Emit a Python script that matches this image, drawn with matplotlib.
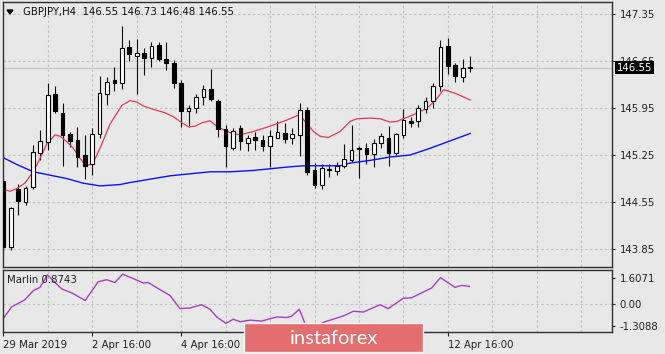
import matplotlib
matplotlib.use("Agg")
import matplotlib.pyplot as plt
from matplotlib.patches import Rectangle, Polygon

# GBPJPY H4 candles
opens = [144.86, 143.88, 144.75, 144.55, 144.78, 145.28, 145.45, 146.16, 145.88, 145.56,
         145.47, 145.25, 145.11, 145.57, 146.16, 146.36, 146.33, 146.86, 146.73, 146.77,
         146.70, 146.89, 146.68, 146.62, 146.32, 145.91, 145.95, 146.11, 146.24, 146.06,
         145.63, 145.36, 145.65, 145.43, 145.52, 145.47, 145.38, 145.51, 145.58, 145.50,
         145.55, 145.92, 145.02, 144.80, 145.03, 145.01, 145.08, 145.18, 145.35, 145.36,
         145.26, 145.43, 145.51, 145.28, 145.55, 145.76, 145.76, 145.93, 146.06, 146.28,
         146.87, 146.59, 146.41, 146.55]
highs = [144.90, 144.48, 144.82, 144.79, 145.40, 145.62, 146.33, 146.28, 146.02, 145.60,
         145.66, 145.55, 145.65, 146.43, 146.41, 146.56, 147.17, 146.97, 146.98, 146.84,
         146.94, 146.94, 146.94, 146.66, 146.37, 145.99, 146.16, 146.29, 146.53, 146.08,
         145.70, 145.65, 145.70, 145.55, 145.60, 145.55, 145.62, 145.75, 145.72, 145.65,
         146.03, 145.97, 145.13, 145.12, 145.12, 145.14, 145.41, 145.70, 145.38, 145.43,
         145.49, 145.58, 145.68, 145.58, 145.93, 145.82, 145.99, 146.11, 146.33, 146.96,
         146.99, 146.62, 146.68, 146.73]
lows = [143.79, 143.83, 144.36, 144.50, 144.75, 145.18, 145.32, 145.87, 145.09, 145.37,
        145.07, 144.90, 144.95, 145.50, 146.00, 146.21, 146.23, 146.65, 146.16, 146.44,
        146.56, 146.65, 146.52, 146.25, 145.66, 145.66, 145.88, 146.00, 146.06, 145.52,
        145.07, 145.32, 145.32, 145.31, 145.33, 145.31, 145.07, 145.50, 145.43, 145.42,
        145.23, 144.95, 144.76, 144.75, 144.92, 144.95, 145.06, 145.15, 144.91, 145.12,
        145.07, 145.35, 145.09, 145.25, 145.51, 145.67, 145.67, 145.88, 145.95, 146.21,
        146.46, 146.34, 146.34, 146.48]
closes = [143.88, 144.46, 144.57, 144.76, 145.29, 145.46, 146.14, 145.91, 145.55, 145.46,
          145.22, 145.09, 145.57, 146.18, 146.34, 146.33, 146.85, 146.75, 146.77, 146.70,
          146.88, 146.68, 146.62, 146.33, 145.90, 145.95, 146.11, 146.24, 146.08, 145.63,
          145.38, 145.61, 145.46, 145.51, 145.48, 145.39, 145.53, 145.60, 145.49, 145.57,
          145.92, 144.99, 144.80, 145.05, 145.04, 145.08, 145.19, 145.33, 145.34, 145.26,
          145.43, 145.53, 145.28, 145.56, 145.77, 145.73, 145.95, 146.06, 146.28, 146.86,
          146.58, 146.42, 146.54, 146.55]

# fast (red) and slow (blue) averages: bar position, price
fast_pos = [0, 0.9, 1.8, 2.9, 4.05, 4.95, 5.9, 7.0, 7.65, 8.55, 9.45, 10.35, 11.15, 12.05,
            13.05, 14.4, 16.0, 17.1, 18.0, 18.9, 20.25, 21.8, 22.95, 24.1, 25.0, 25.9,
            26.8, 27.9, 28.8, 30.15, 31.05, 31.95, 33.75, 36.0, 38.25, 39.95, 40.95, 41.85,
            42.75, 43.85, 45.45, 46.8, 47.7, 49.5, 50.85, 52.2, 53.1, 54.0, 55.35, 56.7,
            57.6, 58.5, 59.4, 59.85, 61.2, 63.0]
fast_val = [144.74, 144.71, 144.75, 144.83, 145.00, 145.20, 145.42, 145.55, 145.53, 145.45,
            145.35, 145.20, 145.09, 145.12, 145.35, 145.71, 145.99, 146.06, 146.04, 145.98,
            145.93, 145.88, 145.82, 145.73, 145.67, 145.68, 145.73, 145.76, 145.68, 145.60,
            145.57, 145.55, 145.60, 145.68, 145.77, 145.85, 145.72, 145.60, 145.53, 145.51,
            145.60, 145.75, 145.79, 145.80, 145.79, 145.74, 145.75, 145.79, 145.85, 145.92,
            145.99, 146.09, 146.22, 146.21, 146.16, 146.07]
slow_pos = [0, 1.8, 4.05, 6.3, 8.55, 10.8, 13.05, 14.4, 15.75, 17.1, 19.8, 22.5, 25.2, 27.9,
            30.6, 33.75, 38.25, 40.5, 42.75, 45.45, 46.8, 49.5, 52.2, 54.9, 57.6, 60.3, 63.0]
slow_val = [145.21, 145.11, 145.00, 144.95, 144.90, 144.83, 144.79, 144.80, 144.81, 144.84,
            144.89, 144.94, 144.97, 145.00, 145.00, 145.02, 145.07, 145.09, 145.09, 145.09,
            145.13, 145.17, 145.22, 145.25, 145.35, 145.46, 145.57]

# Marlin oscillator
marlin_pos = [0, 1.1, 2.9, 4.05, 4.95, 5.95, 6.75, 7.9, 9.25, 11.05, 12.8, 13.95, 15.05, 16.1,
              17.55, 18.9, 19.55, 21.15, 22.5, 23.85, 25.2, 26.75, 27.9, 28.8, 30.05, 31.05,
              31.95, 33.3, 34.85, 36.9, 38.25, 38.9, 39.95, 40.7, 41.8, 43.4, 44.1, 45.9,
              47.25, 48.6, 50.85, 51.95, 54.0, 55.1, 57.8, 59.0, 60.95, 61.85, 62.9]
marlin_val = [-0.87, -0.16, 0.28, 0.85, 1.05, 1.82, 1.45, 0.95, 0.71, 0.24, 1.39, 1.52, 1.35,
              1.86, 1.59, 1.32, 1.35, 0.91, 0.55, -0.26, -0.22, -0.02, -0.30, -0.77, -1.17,
              -0.91, -1.07, -0.97, -1.03, -0.77, -0.81, -0.73, -0.30, -1.17, -1.40, -1.07,
              -0.97, -0.71, -0.42, -0.47, -0.02, -0.26, 0.38, 0.41, 1.01, 1.65, 1.05, 1.17, 1.11]

price_ticks = [143.85, 144.55, 145.25, 145.95, 146.65, 147.35]
marlin_ticks = [-1.3088, 0.0, 1.6071]
marlin_labels = ["-1.3088", "0.00", "1.6071"]
date_pos = [0, 12, 24, 36, 48, 60]
date_labels = ["29 Mar 2019", "2 Apr 16:00", "4 Apr 16:00", "", "10 Apr 16:00", "12 Apr 16:00"]
last_price = 146.55

W, H = 665, 354
bg = "#e8e8e8"
gridc = "#c2c2c2"
fs = 7.3
plt.rcParams["font.family"] = "DejaVu Sans"

fig = plt.figure(figsize=(W / 100, H / 100), dpi=100, facecolor=bg)
ax = fig.add_axes([3 / W, 1 - 267 / H, 609 / W, 265 / H], facecolor=bg)
ax2 = fig.add_axes([3 / W, 1 - 332 / H, 609 / W, 62 / H], facecolor=bg, sharex=ax)

for a in (ax, ax2):
    for s in a.spines.values():
        s.set_color("#303030")
        s.set_linewidth(1)
    a.yaxis.tick_right()
    a.tick_params(axis="y", length=2.5, width=0.8, pad=3, labelsize=fs, colors="#202020")
    for g in range(6, 83, 6):
        a.axvline(g, color=gridc, lw=0.8, ls=(0, (2.2, 2.2)), zorder=0)

ax.set_xlim(-0.04, 82.15)
ax.set_ylim(143.582, 147.529)
ax.set_yticks(price_ticks)
ax.set_yticklabels(["%.2f" % p for p in price_ticks])
for p in price_ticks:
    ax.axhline(p, color=gridc, lw=0.8, ls=(0, (2.2, 2.2)), zorder=0)
ax.axhline(last_price, color="#c8c8c8", lw=1.0, zorder=0.5)
ax.tick_params(axis="x", bottom=False, labelbottom=False)

# candles
n = len(opens)
idx = list(range(n))
ax.vlines(idx, lows, highs, color="#101010", lw=0.8, zorder=2)
bottoms = [min(o, c) for o, c in zip(opens, closes)]
heights = [max(abs(c - o), 0.008) for o, c in zip(opens, closes)]
colors = ["black" if c < o else "white" for o, c in zip(opens, closes)]
ax.bar(idx, heights, bottom=bottoms, width=0.5, color=colors, edgecolor="black", lw=0.8, zorder=3)

ax.plot(fast_pos, fast_val, color="#e33a58", lw=0.9, zorder=2.5)
ax.plot(slow_pos, slow_val, color="#1010ff", lw=1.0, zorder=2.5)

ax.text(20 / 609, 1 - 10 / 265, "GBPJPY,H4  146.55 146.73 146.48 146.55", transform=ax.transAxes,
        fontsize=fs, color="#101010", va="center", ha="left")
fig.add_artist(Polygon([[7 / W, 1 - 10 / H], [13 / W, 1 - 10 / H], [10 / W, 1 - 14 / H]],
                       closed=True, transform=fig.transFigure, color="black"))

ax.annotate("%.2f" % last_price, xy=(1, last_price), xycoords=("axes fraction", "data"),
            xytext=(5, 0), textcoords="offset pixels", fontsize=fs, color="white",
            va="center", ha="left", annotation_clip=False,
            bbox=dict(boxstyle="square,pad=0.15", facecolor="black", edgecolor="none"))

# Marlin sub window
ax2.set_ylim(-1.70, 2.12)
ax2.set_yticks(marlin_ticks)
ax2.set_yticklabels(marlin_labels)
ax2.axhline(0, color=gridc, lw=0.8, ls=(0, (2.2, 2.2)), zorder=0)
ax2.plot(marlin_pos, marlin_val, color="#a63fc0", lw=1.0)
ax2.text(4 / 609, 0.84, "Marlin 0.8743", transform=ax2.transAxes, fontsize=fs,
         color="#202020", va="center", ha="left")
ax2.set_xticks(date_pos)
ax2.set_xticklabels(date_labels)
ax2.tick_params(axis="x", length=3, width=0.8, pad=2.5, labelsize=fs, colors="#202020")
for lab in ax2.get_xticklabels():
    lab.set_ha("left")

# watermark
fig.add_artist(Rectangle((244 / W, 1 - 352 / H), 179 / W, 29 / H, transform=fig.transFigure,
                         facecolor="#e36d6f", edgecolor="#f4f4f4", lw=1, zorder=5))
fig.text(290 / W, 1 - 338.5 / H, "instaforex", color="white", fontsize=14.5, family="Lato",
         va="center", ha="left", zorder=6)

fig.savefig("out.png", dpi=100, facecolor=bg)
